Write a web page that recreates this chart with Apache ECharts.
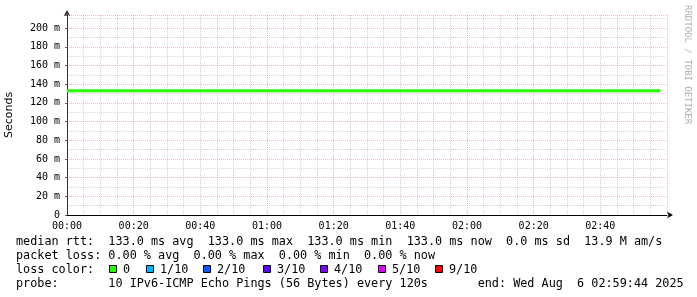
<!DOCTYPE html>
<html><head><meta charset="utf-8">
<script src="https://cdn.jsdelivr.net/npm/echarts@6/dist/echarts.min.js"></script>
<style>html,body{margin:0;padding:0;background:#fff}#c{width:697px;height:297px}</style>
</head><body><div id="c"></div>
<script>
// ---- data ----
const times = [];          // minutes since 00:00, one sample every 2 minutes
for (let t = 0; t <= 178; t += 2) times.push(t);
const rttMs = times.map(() => 133.0);   // median rtt, constant 133.0 ms
const xTickLabels = ['00:00','00:20','00:40','01:00','01:20','01:40','02:00','02:20','02:40'];
const yAxisTitle = 'Seconds';
const statLine1 = 'median rtt:  133.0 ms avg  133.0 ms max  133.0 ms min  133.0 ms now  0.0 ms sd  13.9 M am/s';
const statLine2 = 'packet loss: 0.00 % avg  0.00 % max  0.00 % min  0.00 % now';
const lossTitle = 'loss color:';
const lossLabels = ['0','1/10','2/10','3/10','4/10','5/10','9/10'];
const lossColors = ['#26ff00','#00b8ff','#0059ff','#5e00ff','#7e00ff','#dd00ff','#ff0000'];
const probeLine = 'probe:       10 IPv6-ICMP Echo Pings (56 Bytes) every 120s       end: Wed Aug  6 02:59:44 2025';
const watermark = 'RRDTOOL / TOBI OETIKER';

// ---- layout ----
const mono = '"DejaVu Sans Mono", monospace';
const lfs = 11.8;
const boxX = [109,146,203,263,320,378,435];
const graphics = [
  {type:'text', left:16, top:236, style:{text:statLine1, font:lfs+'px '+mono, fill:'#000'}},
  {type:'text', left:16, top:250, style:{text:statLine2, font:lfs+'px '+mono, fill:'#000'}},
  {type:'text', left:16, top:264, style:{text:lossTitle, font:lfs+'px '+mono, fill:'#000'}},
  {type:'text', left:16, top:278, style:{text:probeLine, font:lfs+'px '+mono, fill:'#000'}},
  {type:'text', x:692, y:5, rotation:-Math.PI/2, style:{text:watermark, font:'9px '+mono, fill:'#b0b0b0'}}
];
lossLabels.forEach((lab,i)=>{
  graphics.push({type:'rect', shape:{x:boxX[i]+0.5, y:265.5, width:7, height:7}, style:{fill:lossColors[i], stroke:'#000', lineWidth:1}});
  graphics.push({type:'text', left:boxX[i]+14, top:264, style:{text:lab, font:lfs+'px '+mono, fill:'#000'}});
});

const chart = echarts.init(document.getElementById('c'), null, {renderer:'canvas'});
chart.setOption({
  animation:false,
  backgroundColor:'#fff',
  grid:{left:67, right:30, top:15, bottom:82, containLabel:false, outerBoundsMode:'none'},
  xAxis:{
    type:'value', min:0, max:180, interval:20,
    axisLine:{show:true, lineStyle:{color:'#000', width:1}, symbol:['none','arrow'], symbolSize:[5,6], symbolOffset:[0,6]},
    axisTick:{show:false},
    axisLabel:{margin:6, fontFamily:mono, fontSize:10, color:'#000', formatter:v=>xTickLabels[v/20] ?? ''},
    splitLine:{show:true, lineStyle:{color:'rgba(220,120,120,0.5)', type:[1,1], width:1}},
    minorTick:{show:false, splitNumber:4},
    minorSplitLine:{show:true, lineStyle:{color:'rgba(150,150,150,0.4)', type:[1,1], width:1}}
  },
  yAxis:{
    type:'value', min:0, max:214, interval:20,
    name:yAxisTitle, nameLocation:'middle', nameGap:52, nameRotate:90,
    nameTextStyle:{fontFamily:'"DejaVu Sans", sans-serif', fontSize:11, color:'#000'},
    axisLine:{show:true, lineStyle:{color:'#333', width:1}, symbol:['none','arrow'], symbolSize:[5,6], symbolOffset:[0,5]},
    axisTick:{show:true, length:2, lineStyle:{color:'#666'}},
    axisLabel:{margin:7, fontFamily:mono, fontSize:10, color:'#000', formatter:v=> v>200 ? '' : (v===0 ? '0' : v+' m')},
    splitLine:{show:true, lineStyle:{color:'rgba(220,120,120,0.5)', type:[1,1], width:1}},
    minorTick:{show:false, splitNumber:2},
    minorSplitLine:{show:true, lineStyle:{color:'rgba(150,150,150,0.4)', type:[1,1], width:1}}
  },
  series:[{
    type:'line', data:times.map((t,i)=>[t,rttMs[i]]), showSymbol:false, step:'end',
    lineStyle:{color:'#26ff00', width:3}, z:5
  }],
  graphic:graphics
});
</script></body></html>
